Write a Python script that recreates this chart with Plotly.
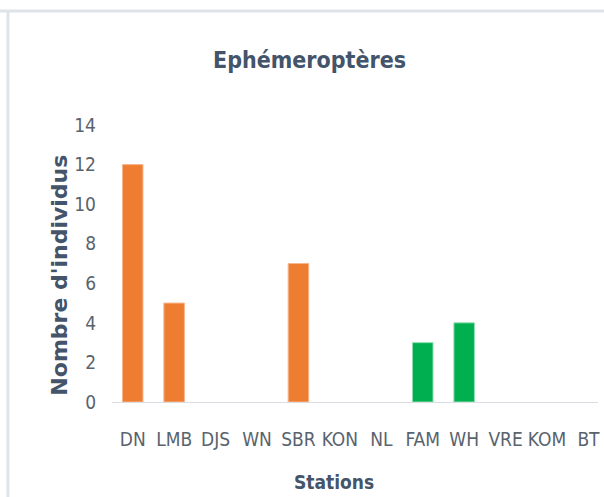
import plotly.graph_objects as go

stations = ["DN", "LMB", "DJS", "WN", "SBR", "KON", "NL", "FAM", "WH", "VRE", "KOM", "BT"]
individus = [12, 5, 0, 0, 7, 0, 0, 3, 4, 0, 0, 0]
groupe = ["A", "A", "A", "A", "A", "A", "A", "B", "B", "B", "B", "B"]
y_ticks = [0, 2, 4, 6, 8, 10, 12, 14]

fill = {"A": "#EF7D31", "B": "#00B050"}
edge = {"A": "#F6B68C", "B": "#8FDDB0"}

NARROW = "DejaVu Sans Condensed, Liberation Sans Narrow, sans-serif"
TXT = "#44546A"

fig = go.Figure()
fig.add_trace(go.Bar(
    x=stations, y=individus,
    marker=dict(color=[fill[g] for g in groupe],
                line=dict(color=[edge[g] for g in groupe],
                          width=[1 if v > 0 else 0 for v in individus])),
    showlegend=False,
))

fig.update_layout(
    width=604, height=497,
    margin=dict(l=112, r=4, t=125, b=95),
    paper_bgcolor="white", plot_bgcolor="white",
    bargap=0.505,
    xaxis=dict(
        range=[-0.5, 11.23], showgrid=False, zeroline=False,
        showline=True, linecolor="#D9DCE1", linewidth=1,
        ticks="", ticklabelstandoff=20,
        tickfont=dict(family=NARROW, size=19, color="#59636E"),
    ),
    yaxis=dict(
        range=[0, 14], tickvals=y_ticks, showgrid=False, zeroline=False,
        showline=False, ticks="", ticklabelstandoff=15,
        tickfont=dict(family=NARROW, size=19, color="#59636E"),
    ),
    annotations=[
        dict(text="Ephémeroptères", xref="paper", yref="paper", x=0.406, y=1.235,
             xanchor="center", yanchor="middle", showarrow=False,
             font=dict(family=NARROW, size=23, color=TXT, weight="bold")),
        dict(text="Nombre d'individus", xref="paper", yref="paper", x=-0.108, y=0.458,
             xanchor="center", yanchor="middle", textangle=-90, showarrow=False,
             font=dict(family="DejaVu Sans, sans-serif", size=22, color=TXT, weight="bold")),
        dict(text="Stations", xref="paper", yref="paper", x=0.457, y=-0.289,
             xanchor="center", yanchor="middle", showarrow=False,
             font=dict(family=NARROW, size=19, color=TXT, weight="bold")),
    ],
    shapes=[
        dict(type="line", xref="paper", yref="paper", x0=-0.24, x1=1.02,
             y0=(402 - 11) / 277, y1=(402 - 11) / 277,
             line=dict(color="#DFE4EB", width=3)),
        dict(type="line", xref="paper", yref="paper", x0=(7.5 - 112) / 488, x1=(7.5 - 112) / 488,
             y0=(402 - 10) / 277, y1=-0.4,
             line=dict(color="#DFE4EB", width=3)),
    ],
)

fig.write_html("out.html", config={"displayModeBar": False},
               post_script="document.body.style.margin='0';document.body.style.overflow='hidden';")
